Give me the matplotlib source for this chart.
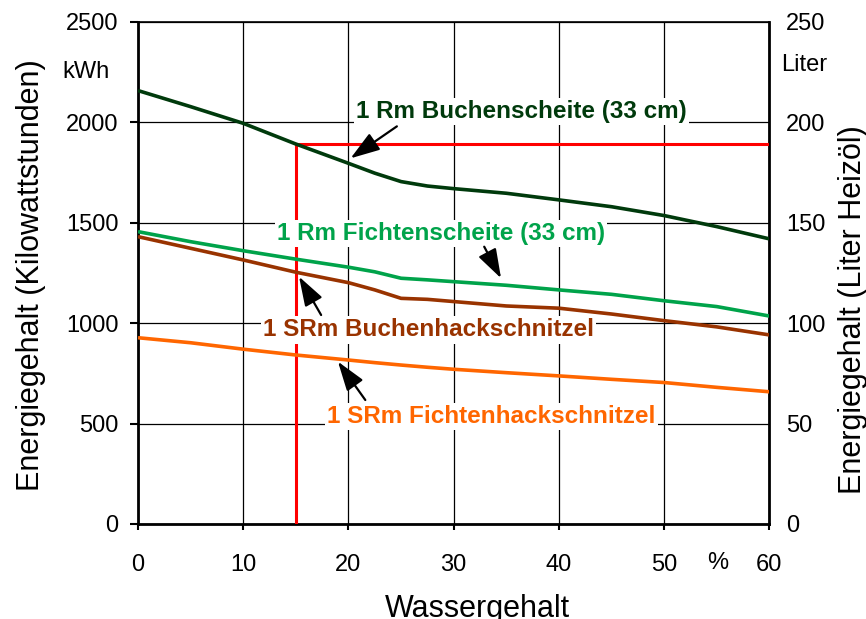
import matplotlib
matplotlib.use("Agg")
import matplotlib.pyplot as plt

plt.rcParams['font.family'] = ['Liberation Sans', 'DejaVu Sans']

# Wassergehalt in %
water = [0, 5, 10, 15, 20, 22.5, 25, 27.5, 30, 35, 40, 45, 50, 55, 60]

# Energiegehalt in kWh
buchen_scheite = [2157, 2077, 1994, 1891, 1795, 1746, 1704, 1682, 1669, 1646, 1613, 1579, 1535, 1480, 1419]
fichten_scheite = [1455, 1405, 1360, 1318, 1278, 1255, 1223, 1215, 1206, 1188, 1165, 1143, 1111, 1082, 1035]
buchen_hack = [1430, 1372, 1314, 1253, 1201, 1165, 1123, 1118, 1107, 1085, 1074, 1045, 1012, 981, 941]
fichten_hack = [927, 902, 870, 841, 816, 803, 791, 780, 770, 753, 737, 720, 704, 680, 658]

# Ablesebeispiel
mark_x = 15
mark_y = 1890

names = ["1 Rm Buchenscheite (33 cm)", "1 Rm Fichtenscheite (33 cm)",
         "1 SRm Buchenhackschnitzel", "1 SRm Fichtenhackschnitzel"]
colors = ["#003a0c", "#00a34a", "#993300", "#ff6600"]

xticks = [0, 10, 20, 30, 40, 50, 60]
yticks = [0, 500, 1000, 1500, 2000, 2500]
yticks_r = [0, 50, 100, 150, 200, 250]

fig = plt.figure(figsize=(8.66, 6.19), dpi=100)
ax = fig.add_axes([0.1594, 0.1535, 0.729, 0.8115])

ax.set_xlim(0, 60)
ax.set_ylim(0, 2500)
ax.set_xticks(xticks)
ax.set_yticks(yticks)
ax.grid(True, color="black", lw=0.9)
ax.set_axisbelow(True)

for s in ["left", "bottom", "right"]:
    ax.spines[s].set_linewidth(2)
ax.spines["top"].set_linewidth(1.2)

ax.tick_params(axis="y", direction="out", length=6, width=1.5, pad=8, labelsize=17)
ax.tick_params(axis="x", direction="out", length=4.5, width=1.5, pad=17, labelsize=17)

# red reading lines
ax.plot([mark_x, mark_x], [0, mark_y], color="red", lw=2.2, zorder=3)
ax.plot([mark_x, 60], [mark_y, mark_y], color="red", lw=2.2, zorder=3)

series = [buchen_scheite, fichten_scheite, buchen_hack, fichten_hack]
for vals, c in zip(series, colors):
    ax.plot(water, vals, color=c, lw=2.6, zorder=4, solid_capstyle="butt")

# labels with white background
label_pos = [(20.7, 2054), (13.2, 1447), (11.9, 966), (18.0, 534)]
for (lx, ly), name, c in zip(label_pos, names, colors):
    ax.text(lx, ly, name, color=c, fontsize=17.5, fontweight="bold", ha="left", va="center",
            zorder=6, bbox=dict(facecolor="white", edgecolor="none", pad=1.5))

# arrows (tail -> head)
arrows = [((24.6, 1979), (20.2, 1820)),
          ((32.9, 1380), (34.5, 1223)),
          ((17.4, 1040), (15.3, 1231)),
          ((21.6, 617), (19.0, 808))]
for tail, head in arrows:
    ax.annotate("", xy=head, xytext=tail, zorder=7,
                arrowprops=dict(arrowstyle="-|>,head_length=0.9,head_width=0.3",
                                mutation_scale=20, color="black", lw=1.6,
                                shrinkA=0, shrinkB=0))

ax.set_ylabel("Energiegehalt (Kilowattstunden)", fontsize=22)
ax.yaxis.set_label_coords(-0.146, 0.496)
ax.set_xlabel("Wassergehalt", fontsize=22)
ax.xaxis.set_label_coords(0.537, -0.139)

ax.text(-4.9, 2250, "kWh", fontsize=17, ha="center", va="center", clip_on=False)
ax.text(55.1, -194, "%", fontsize=17, ha="center", va="center", clip_on=False)

ax2 = ax.twinx()
ax2.set_ylim(0, 250)
ax2.set_yticks(yticks_r)
ax2.tick_params(axis="y", length=0, pad=12, labelsize=17)
ax2.set_ylabel("Energiegehalt (Liter Heizöl)", fontsize=22)
ax2.yaxis.set_label_coords(1.108, 0.426)
ax2.text(1.055, 0.913, "Liter", transform=ax2.transAxes, fontsize=17,
         ha="center", va="center")
for s in ax2.spines.values():
    s.set_visible(False)

fig.savefig("out.png", dpi=100)
